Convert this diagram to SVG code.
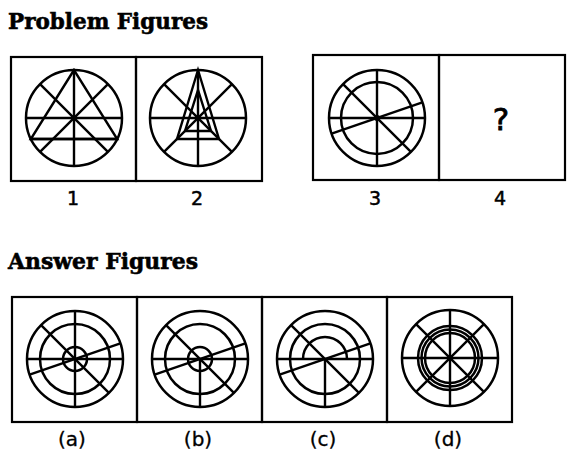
<svg xmlns="http://www.w3.org/2000/svg" width="571" height="454" viewBox="0 0 571 454">
<style>
.bx{fill:none;stroke:#000;stroke-width:2.2}
.c{fill:none;stroke:#000;stroke-width:2.5}
.l{stroke:#000;stroke-width:2.4;fill:none}
.d{fill:#000}
.t{font-family:"DejaVu Serif",serif;font-weight:bold;font-size:23px;fill:#000;stroke:#000;stroke-width:0.6}
.n{font-family:"DejaVu Sans",sans-serif;font-size:19px;fill:#000;stroke:#000;stroke-width:0.5;text-anchor:middle}
.a{font-family:"DejaVu Sans",sans-serif;font-size:20px;fill:#000;stroke:#000;stroke-width:0.3;text-anchor:middle}
</style>
<rect width="571" height="454" fill="#fff"/>
<text class="t" x="8" y="29" textLength="200" lengthAdjust="spacingAndGlyphs">Problem Figures</text>
<text class="t" x="8" y="269" textLength="190" lengthAdjust="spacingAndGlyphs">Answer Figures</text>

<g id="fig1">
<rect class="bx" x="11" y="57" width="125" height="124"/>
<circle class="c" cx="74" cy="118" r="48"/>
<line class="l" x1="74" y1="70" x2="74" y2="166"/>
<line class="l" x1="26" y1="118" x2="122" y2="118"/>
<line class="l" x1="40.06" y1="84.06" x2="107.94" y2="151.94"/>
<line class="l" x1="107.94" y1="84.06" x2="40.06" y2="151.94"/>
<line class="l" x1="30.8" y1="139" x2="117.2" y2="139"/>
<polygon class="l" points="74,70 30.8,139 117.2,139"/>
<circle class="d" cx="74" cy="118" r="3"/>
<text class="n" x="73" y="205">1</text>
</g>

<g id="fig2">
<rect class="bx" x="136" y="57" width="126" height="124"/>
<circle class="c" cx="198" cy="118" r="48"/>
<line class="l" x1="198" y1="70" x2="198" y2="166"/>
<line class="l" x1="150" y1="118" x2="246" y2="118"/>
<line class="l" x1="164.06" y1="84.06" x2="231.94" y2="151.94"/>
<line class="l" x1="231.94" y1="84.06" x2="164.06" y2="151.94"/>
<polygon class="l" points="198,70 177,139 219,139"/>
<polygon class="l" points="198,90 185,131 211,131"/>
<circle class="d" cx="198" cy="118" r="3"/>
<text class="n" x="197" y="205">2</text>
</g>

<g id="fig3">
<rect class="bx" x="313" y="55" width="126" height="125"/>
<circle class="c" cx="377" cy="118" r="48"/>
<circle class="c" cx="377" cy="118" r="36"/>
<line class="l" x1="377" y1="70" x2="377" y2="166"/>
<line class="l" x1="329" y1="118" x2="425" y2="118"/>
<line class="l" x1="343.06" y1="84.06" x2="410.94" y2="151.94"/>
<line class="l" x1="422.4" y1="102.4" x2="331.6" y2="133.6"/>
<circle class="d" cx="377" cy="118" r="3"/>
<text class="n" x="375" y="205">3</text>
</g>

<g id="fig4">
<rect class="bx" x="439" y="55" width="126" height="125"/>
<text x="501" y="130" style="font-family:'DejaVu Sans',sans-serif;font-size:31px;stroke:#000;stroke-width:0.8;text-anchor:middle">?</text>
<text class="n" x="500" y="205">4</text>
</g>

<g id="ansA">
<rect class="bx" x="12" y="297" width="125" height="125"/>
<circle class="c" cx="75" cy="359" r="48"/>
<circle class="c" cx="75" cy="359" r="35"/>
<circle class="c" cx="75" cy="359" r="12"/>
<line class="l" x1="75" y1="311" x2="75" y2="407"/>
<line class="l" x1="27" y1="359" x2="123" y2="359"/>
<line class="l" x1="41.06" y1="325.06" x2="108.94" y2="392.94"/>
<line class="l" x1="120.4" y1="343.4" x2="29.6" y2="374.6"/>
<text class="a" x="72" y="446">(a)</text>
</g>

<g id="ansB">
<rect class="bx" x="137" y="297" width="125" height="125"/>
<circle class="c" cx="200" cy="359" r="48"/>
<circle class="c" cx="200" cy="359" r="35"/>
<circle class="c" cx="200" cy="359" r="12"/>
<line class="l" x1="200" y1="359" x2="200" y2="407"/>
<line class="l" x1="152" y1="359" x2="248" y2="359"/>
<line class="l" x1="166.06" y1="325.06" x2="233.94" y2="392.94"/>
<line class="l" x1="245.4" y1="343.4" x2="154.6" y2="374.6"/>
<text class="a" x="198" y="446">(b)</text>
</g>

<g id="ansC">
<rect class="bx" x="262" y="297" width="125" height="125"/>
<circle class="c" cx="325" cy="359" r="48"/>
<circle class="c" cx="325" cy="359" r="35"/>
<path class="c" d="M303,359 A22,22 0 0 1 347,359"/>
<line class="l" x1="325" y1="359" x2="325" y2="407"/>
<line class="l" x1="277" y1="359" x2="373" y2="359"/>
<line class="l" x1="291.06" y1="325.06" x2="358.94" y2="392.94"/>
<line class="l" x1="370.4" y1="343.4" x2="279.6" y2="374.6"/>
<text class="a" x="323" y="446">(c)</text>
</g>

<g id="ansD">
<rect class="bx" x="387" y="297" width="125" height="125"/>
<circle class="c" cx="450" cy="358" r="48"/>
<circle class="c" cx="450" cy="358" r="32"/>
<circle class="c" cx="450" cy="358" r="28.5"/>
<circle class="c" cx="450" cy="358" r="25"/>
<line class="l" x1="450" y1="310" x2="450" y2="406"/>
<line class="l" x1="402" y1="358" x2="498" y2="358"/>
<line class="l" x1="416.06" y1="324.06" x2="483.94" y2="391.94"/>
<line class="l" x1="483.94" y1="324.06" x2="416.06" y2="391.94"/>
<circle class="d" cx="450" cy="358" r="3"/>
<text class="a" x="448" y="446">(d)</text>
</g>
</svg>
